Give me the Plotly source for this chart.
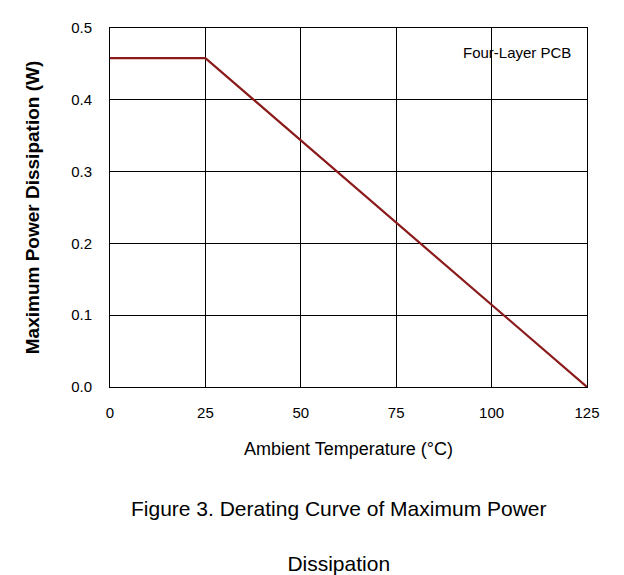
import plotly.graph_objects as go

temp = [0, 25, 125]
power = [0.458, 0.458, 0.0]
x_ticks = [0, 25, 50, 75, 100, 125]
y_ticks = [0.0, 0.1, 0.2, 0.3, 0.4, 0.5]

font = "Liberation Sans, Arial, sans-serif"

fig = go.Figure()
fig.add_trace(go.Scatter(x=temp, y=power, mode="lines",
                         line=dict(color="#8b1a1a", width=2.2), showlegend=False))

fig.update_xaxes(range=[0, 125], tickvals=x_ticks, showgrid=True, gridcolor="black", gridwidth=1,
                 zeroline=False, showline=True, linecolor="black", mirror=True,
                 ticks="", ticklabelstandoff=12, tickfont=dict(size=15, color="black"),
                 title=dict(text="Ambient Temperature (°C)", font=dict(size=18, color="black"), standoff=22))
fig.update_yaxes(range=[0, 0.5], tickvals=y_ticks, tickformat=".1f", showgrid=True, gridcolor="black",
                 gridwidth=1, zeroline=False, showline=True, linecolor="black", mirror=True,
                 ticks="", ticklabelstandoff=14, tickfont=dict(size=15, color="black"),
                 title=dict(text="<b>Maximum Power Dissipation (W)</b>", font=dict(size=19, color="black"), standoff=26))

fig.add_annotation(x=0.97, y=0.96, xref="paper", yref="paper", xanchor="right", yanchor="top",
                   text="Four-Layer PCB", showarrow=False, font=dict(size=15, color="black"))
fig.add_annotation(x=0.48, y=-0.30, xref="paper", yref="paper", showarrow=False, align="center",
                   yanchor="top", text="Figure 3. Derating Curve of Maximum Power<br><br>Dissipation",
                   font=dict(size=21, color="black"))

fig.update_layout(width=624, height=575, margin=dict(l=102, r=45, t=11, b=196),
                  plot_bgcolor="white", paper_bgcolor="white", font=dict(family=font))
fig.write_html("out.html")
